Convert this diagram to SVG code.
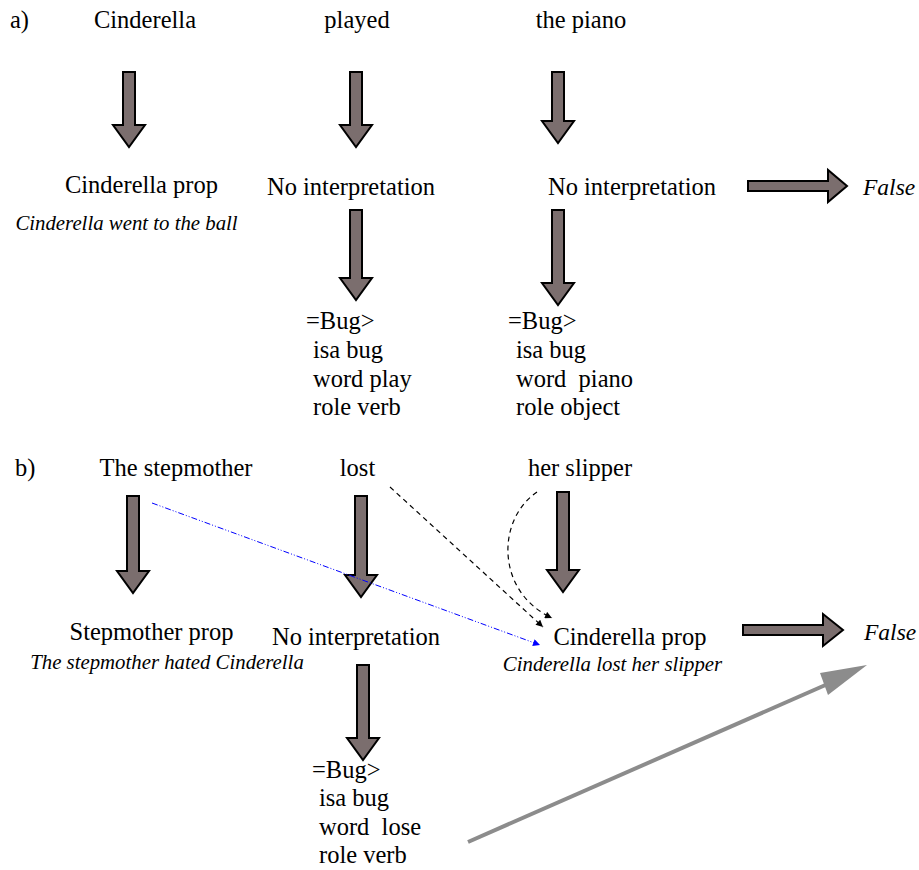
<svg xmlns="http://www.w3.org/2000/svg" width="919" height="870" viewBox="0 0 919 870">
<style>
  text { font-family: "Liberation Serif", "Times New Roman", serif; fill: #000; }
  .w { font-size: 24.5px; }
  .n { font-size: 24.5px; text-anchor: middle; }
  .i { font-size: 20.8px; font-style: italic; text-anchor: middle; }
  .f { font-size: 23.5px; font-style: italic; }
  .blk { fill: #7b6e6e; stroke: #000; stroke-width: 2; stroke-linejoin: miter; }
</style>
<defs>
  <marker id="ahBlack" viewBox="0 0 10 10" refX="10" refY="5" markerWidth="9" markerHeight="7" markerUnits="userSpaceOnUse" orient="auto">
    <path d="M0,0 L10,5 L0,10 Z" fill="#000"/>
  </marker>
  <marker id="ahBlue" viewBox="0 0 10 10" refX="10" refY="5" markerWidth="12" markerHeight="7" markerUnits="userSpaceOnUse" orient="auto">
    <path d="M0,0 L10,5 L0,10 Z" fill="#0000ff"/>
  </marker>
</defs>

<!-- part a -->
<g id="label-a"><text class="w" x="10" y="28">a)</text></g>
<g id="a-cinderella"><text class="n" x="145" y="28">Cinderella</text></g>
<g id="a-played"><text class="n" x="357" y="28">played</text></g>
<g id="a-piano"><text class="n" x="581" y="28">the piano</text></g>

<g id="a-cinderella-prop">
  <text class="n" x="141.5" y="193">Cinderella prop</text>
  <text class="i" x="126.5" y="230">Cinderella went to the ball</text>
</g>
<g id="a-nointerp-1"><text class="n" x="351" y="195">No interpretation</text></g>
<g id="a-nointerp-2"><text class="n" x="632" y="195">No interpretation</text></g>
<g id="a-false"><text class="f" x="863" y="195">False</text></g>

<g id="a-bug-1">
  <text class="w" x="306" y="329">=Bug&gt;</text>
  <text class="w" x="313" y="358">isa bug</text>
  <text class="w" x="313" y="387">word play</text>
  <text class="w" x="313" y="415">role verb</text>
</g>
<g id="a-bug-2">
  <text class="w" x="508" y="329">=Bug&gt;</text>
  <text class="w" x="516" y="358">isa bug</text>
  <text class="w" x="516" y="387" xml:space="preserve">word  piano</text>
  <text class="w" x="516" y="415">role object</text>
</g>

<!-- part b -->
<g id="label-b"><text class="w" x="15" y="476">b)</text></g>
<g id="b-stepmother"><text class="n" x="176" y="476">The stepmother</text></g>
<g id="b-lost"><text class="n" x="357.5" y="476">lost</text></g>
<g id="b-slipper"><text class="n" x="580" y="476">her slipper</text></g>

<g id="b-stepmother-prop">
  <text class="n" x="151.5" y="640">Stepmother prop</text>
  <text class="i" x="167" y="669">The stepmother hated Cinderella</text>
</g>
<g id="b-nointerp"><text class="n" x="356" y="645">No interpretation</text></g>
<g id="b-cinderella-prop">
  <text class="n" x="630" y="645">Cinderella prop</text>
  <text class="i" x="612.5" y="671">Cinderella lost her slipper</text>
</g>
<g id="b-false"><text class="f" x="864" y="640">False</text></g>

<g id="b-bug">
  <text class="w" x="312" y="778">=Bug&gt;</text>
  <text class="w" x="319" y="806">isa bug</text>
  <text class="w" x="319" y="835" xml:space="preserve">word  lose</text>
  <text class="w" x="319" y="863">role verb</text>
</g>

<g id="connectors">
  <!-- block arrows, part a -->
  <path class="blk" d="M123,72 H135 V125 H145 L129,147 L113,125 H123 Z"/>
  <path class="blk" d="M350,72 H362 V125 H372 L356,147 L340,125 H350 Z"/>
  <path class="blk" d="M552,72 H564 V121 H574 L558,143 L542,121 H552 Z"/>
  <path class="blk" d="M350,210 H362 V278 H372 L356,300 L340,278 H350 Z"/>
  <path class="blk" d="M552,210 H564 V283 H574 L558,305 L542,283 H552 Z"/>
  <path class="blk" d="M748,181 H828 V170 L847,186 L828,202 V191 H748 Z"/>

  <!-- block arrows, part b -->
  <path class="blk" d="M127,496 H139 V571 H149 L133,593 L117,571 H127 Z"/>
  <path class="blk" d="M355,496 H367 V575 H377 L361,597 L345,575 H355 Z"/>
  <path class="blk" d="M557,492 H569 V570 H579 L563,592 L547,570 H557 Z"/>
  <path class="blk" d="M357,665 H369 V738 H379 L363,760 L347,738 H357 Z"/>
  <path class="blk" d="M743,625 H823 V614 L843,630 L823,646 V635 H743 Z"/>

  <!-- dashed links into Cinderella prop -->
  <path d="M390,487 L543,627" fill="none" stroke="#000" stroke-width="1.2" stroke-dasharray="5,4" marker-end="url(#ahBlack)"/>
  <path d="M537,492 C496,520 496,592 552,618" fill="none" stroke="#000" stroke-width="1.2" stroke-dasharray="5,4" marker-end="url(#ahBlack)"/>

  <!-- dash-dot link from The stepmother -->
  <path d="M152,503 L540,645" fill="none" stroke="#0000ff" stroke-width="1" stroke-dasharray="6,2,1,2,1,2" marker-end="url(#ahBlue)"/>

  <!-- grey arrow -->
  <path d="M468,842 L830,683" fill="none" stroke="#8c8c8c" stroke-width="4"/>
  <path d="M867,665 L820,673 L828,695 Z" fill="#8c8c8c"/>
</g>
</svg>
